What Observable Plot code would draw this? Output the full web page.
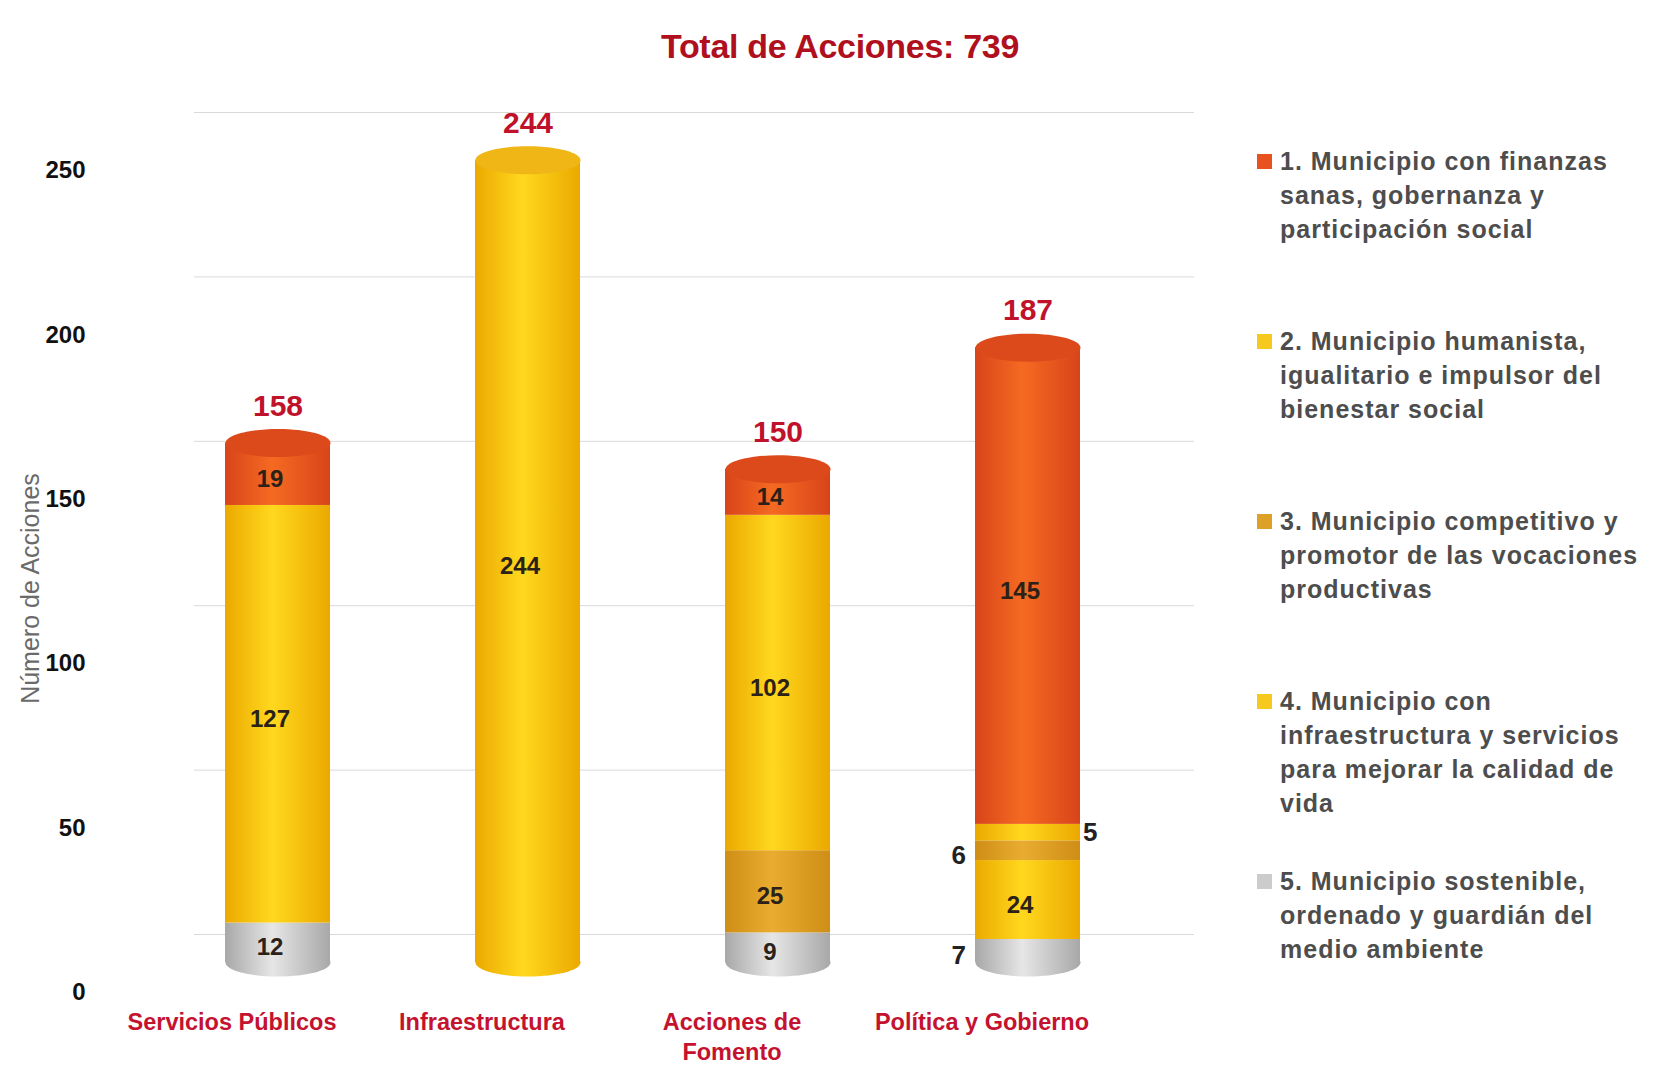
<!DOCTYPE html>
<html>
<head>
<meta charset="utf-8">
<script src="https://cdn.jsdelivr.net/npm/d3@7"></script>
<script src="https://cdn.jsdelivr.net/npm/@observablehq/plot@0.6"></script>
<style>
  body { margin: 0; background: #fff; }
  #wrap { position: relative; width: 1656px; height: 1081px; overflow: hidden; background: #fff; }
  #chart { position: absolute; left: 0; top: 0; }
  #title { position: absolute; left: 0; width: 1680px; top: 23px; text-align: center;
    font-family: "Liberation Sans", Arial, sans-serif;
    font-weight: bold; font-size: 34px; line-height: 46px; color: #B0101E; letter-spacing: -0.3px; }
  #legend { position: absolute; left: 1257px; top: 144px; width: 400px;
    font-family: "Liberation Sans", Arial, sans-serif; font-weight: bold; font-size: 25px;
    letter-spacing: 1px; line-height: 34px; color: #4d4d4d; }
  .item { position: relative; height: 180px; padding-left: 23px; }
  .sw { position: absolute; left: 0; top: 10px; width: 15px; height: 15px; }
</style>
</head>
<body>
<div id="wrap">
  <div id="chart"></div>
  <div id="title"></div>
  <div id="legend"></div>
</div>
<script>
// ---- data ----
const titleText = "Total de Acciones: 739";
const yLabel = "Número de Acciones";
const categories = ["Servicios Públicos", "Infraestructura", "Acciones de Fomento", "Política y Gobierno"];
const categoryLabels = ["Servicios Públicos", "Infraestructura", "Acciones de\nFomento", "Política y Gobierno"];
const seriesNames = [
  "1. Municipio con finanzas sanas, gobernanza y participación social",
  "2. Municipio humanista, igualitario e impulsor del bienestar social",
  "3. Municipio competitivo y promotor de las vocaciones productivas",
  "4. Municipio con infraestructura y servicios para mejorar la calidad de vida",
  "5. Municipio sostenible, ordenado y guardián del medio ambiente"
];
const s1 = [19, 0, 14, 145];
const s2 = [0, 0, 102, 5];
const s3 = [0, 0, 25, 6];
const s4 = [127, 244, 0, 24];
const s5 = [12, 0, 9, 7];
const yTicks = [0, 50, 100, 150, 200, 250];

// ---- styles ----
const seriesValues = [s1, s2, s3, s4, s5];
const stackOrder = [4, 3, 2, 1, 0]; // bottom to top
const swatch = ["#E8521E", "#F6C91E", "#DDA128", "#F6C91E", "#CCCCCC"];
const gradEdge = ["#D8441A", "#EBA800", "#CF8E16", "#EBA900", "#A8A8A8"];
const gradMid  = ["#F56A22", "#FFD81E", "#E9AC30", "#FFD81E", "#E6E6E6"];
const capFill  = ["#DC4A1C", "#EFB616", "#D09A22", "#EFB616", "#C4C4C4"];
const sans = "'Liberation Sans', Arial, sans-serif";
// label placement for small segments (by "categoryIndex-seriesIndex")
const sideLabel = {"3-4": "left", "3-2": "left", "3-1": "right"};

// ---- build table ----
const rows = [];
for (const si of stackOrder) {
  categories.forEach((c, ci) => {
    const v = seriesValues[si][ci];
    if (v > 0) rows.push({category: c, ci, series: si, value: v, side: sideLabel[ci + "-" + si] || "in"});
  });
}
const totals = categories.map((c, ci) => {
  const total = d3.sum(seriesValues, s => s[ci]);
  const present = stackOrder.filter(si => seriesValues[si][ci] > 0);
  return {category: c, total, top: present[present.length - 1], bottom: present[0]};
});

function ellipse(rx, ry) {
  const k = 0.5523;
  return {draw(ctx) {
    ctx.moveTo(-rx, 0);
    ctx.bezierCurveTo(-rx, -ry * k, -rx * k, -ry, 0, -ry);
    ctx.bezierCurveTo(rx * k, -ry, rx, -ry * k, rx, 0);
    ctx.bezierCurveTo(rx, ry * k, rx * k, ry, 0, ry);
    ctx.bezierCurveTo(-rx * k, ry, -rx, ry * k, -rx, 0);
    ctx.closePath();
  }};
}

const svg = Plot.plot({
  width: 1230,
  height: 1081,
  marginLeft: 152,
  marginRight: 78,
  marginTop: 140,
  marginBottom: 119,
  style: {fontFamily: sans, background: "transparent", overflow: "visible"},
  x: {domain: categories, paddingInner: 0.58, paddingOuter: 0.29, axis: null},
  y: {domain: [0, 250], axis: null},
  color: {type: "identity"},
  marks: [
    Plot.ruleY(yTicks, {stroke: "#d9d9d9", strokeWidth: 1, dy: -28, dx: 42}),
    Plot.axisY({ticks: yTicks, tickSize: 0, tickPadding: 67, dy: 30, fontSize: 24, fontWeight: "bold",
      fill: "#111", fontFamily: sans, label: null}),
    Plot.text([yLabel], {frameAnchor: "left", textAnchor: "middle", rotate: -90, dx: -122, dy: 37, fontSize: 25,
      fill: "#6a6a6a", fontFamily: sans, letterSpacing: 0.8}),
    Plot.axisX({tickSize: 0, tickPadding: 47, dx: -46, fontSize: 23.5, fontWeight: "bold", fill: "#C4122F",
      fontFamily: sans, lineHeight: 1.25, label: null,
      tickFormat: d => categoryLabels[categories.indexOf(d)]}),
    // bottom caps
    Plot.dot(totals, {x: "category", y: () => 0, symbol: ellipse(52.5, 14), r: 5,
      fill: d => `url(#g${d.bottom})`, stroke: null}),
    // stacked cylinder bodies
    Plot.barY(rows, Plot.stackY({x: "category", y: "value", z: "series",
      fill: d => `url(#g${d.series})`})),
    // top caps
    Plot.dot(totals, {x: "category", y: "total", symbol: ellipse(52.5, 14), r: 5,
      fill: d => capFill[d.top], stroke: null}),
    // inside labels
    Plot.text(rows, Plot.stackY({x: "category", y: "value", z: "series",
      text: d => d.side === "in" ? String(d.value) : "", dx: -8, dy: 5,
      fontSize: 24, fontWeight: "bold", fill: "#2b2118", fontFamily: sans, letterSpacing: 1.5})),
    Plot.text(rows, Plot.stackY({x: "category", y: "value", z: "series",
      text: d => d.side === "left" ? String(d.value) : "", dx: -62, dy: 5, textAnchor: "end",
      fontSize: 26, fontWeight: "bold", fill: "#222", fontFamily: sans})),
    Plot.text(rows, Plot.stackY({x: "category", y: "value", z: "series",
      text: d => d.side === "right" ? String(d.value) : "", dx: 55, dy: 0, textAnchor: "start",
      fontSize: 26, fontWeight: "bold", fill: "#222", fontFamily: sans})),
    // totals
    Plot.text(totals, {x: "category", y: "total", text: d => String(d.total), dy: -37,
      fontSize: 30, fontWeight: "bold", fill: "#C0122A", fontFamily: sans, letterSpacing: 0.5})
  ]
});

const defs = d3.select(svg).insert("defs", ":first-child");
seriesNames.forEach((_, i) => {
  const lg = defs.append("linearGradient").attr("id", "g" + i)
    .attr("x1", 0).attr("x2", 1).attr("y1", 0).attr("y2", 0);
  lg.append("stop").attr("offset", "0%").attr("stop-color", gradEdge[i]);
  lg.append("stop").attr("offset", "45%").attr("stop-color", gradMid[i]);
  lg.append("stop").attr("offset", "100%").attr("stop-color", gradEdge[i]);
});
document.getElementById("chart").appendChild(svg);

document.getElementById("title").textContent = titleText;

const legendLines = [
  ["1. Municipio con finanzas", "sanas, gobernanza y", "participación social"],
  ["2. Municipio humanista,", "igualitario e impulsor del", "bienestar social"],
  ["3. Municipio competitivo y", "promotor de las vocaciones", "productivas"],
  ["4. Municipio con", "infraestructura y servicios", "para mejorar la calidad de", "vida"],
  ["5. Municipio sostenible,", "ordenado y guardián del", "medio ambiente"]
];
const legend = d3.select("#legend");
legendLines.forEach((lines, i) => {
  const it = legend.append("div").attr("class", "item").attr("title", seriesNames[i]);
  it.append("div").attr("class", "sw").style("background", swatch[i]);
  lines.forEach(l => it.append("div").text(l));
});
</script>
</body>
</html>
